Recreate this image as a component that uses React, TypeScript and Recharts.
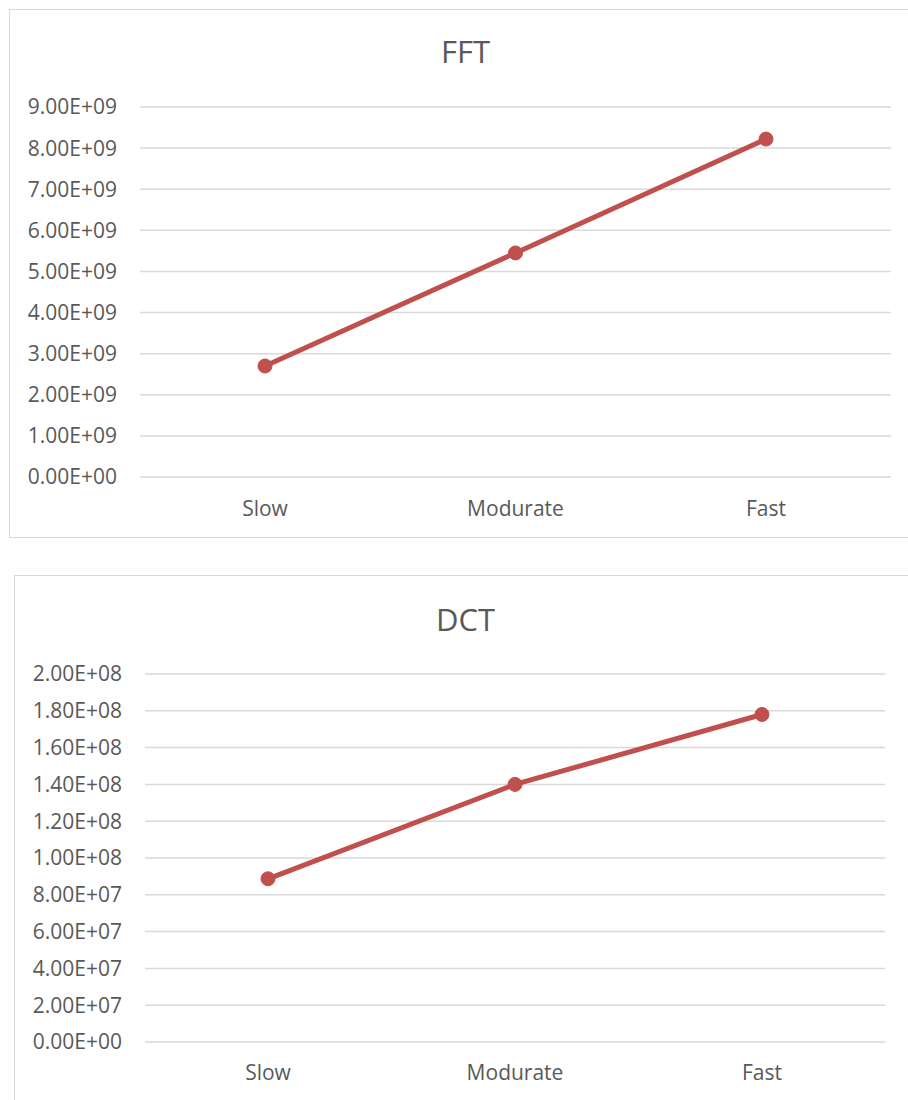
import React from "react";
import { LineChart, Line, XAxis, YAxis, CartesianGrid } from "recharts";

const categories = ["Slow", "Modurate", "Fast"];
const fftValues = [2.7e9, 5.45e9, 8.22e9];
const dctValues = [8.87e7, 1.4e8, 1.78e8];
const fftTicks = [0, 1e9, 2e9, 3e9, 4e9, 5e9, 6e9, 7e9, 8e9, 9e9];
const dctTicks = [0, 2e7, 4e7, 6e7, 8e7, 1e8, 1.2e8, 1.4e8, 1.6e8, 1.8e8, 2e8];

const LINE = "#C0504D";
const GRID = "#d9d9d9";
const TEXT = "#595959";
const FONT = "'Open Sans', sans-serif";

function sci(v: number) {
  const [m, e] = v.toExponential(2).split("e");
  const sign = e.startsWith("-") ? "-" : "+";
  const digits = e.replace(/[+-]/, "").padStart(2, "0");
  return `${m}E${sign}${digits}`;
}

const fftData = categories.map((name, i) => ({ name, value: fftValues[i] }));
const dctData = categories.map((name, i) => ({ name, value: dctValues[i] }));

interface PanelProps {
  title: string;
  data: { name: string; value: number }[];
  ticks: number[];
  top: number;
  boxTop: number;
  boxLeft: number;
  titleTop: number;
  height: number;
  margin: { top: number; right: number; bottom: number; left: number };
  yWidth: number;
  pad: number;
  xTickMargin: number;
}

function Panel(p: PanelProps) {
  const tick = { fontSize: 21, fill: TEXT, fontFamily: FONT };
  return (
    <div style={{ position: "absolute", top: p.top, left: 0, width: 908, height: p.height }}>
      <div
        style={{
          position: "absolute",
          top: p.boxTop,
          left: p.boxLeft,
          width: 940,
          height: 529,
          boxSizing: "border-box",
          border: `1px solid ${GRID}`,
        }}
      />
      <div
        style={{
          position: "absolute",
          top: p.titleTop,
          left: 0,
          width: 931,
          textAlign: "center",
          fontFamily: FONT,
          fontSize: 31,
          lineHeight: "31px",
          color: TEXT,
        }}
      >
        {p.title}
      </div>
      <div style={{ position: "absolute", top: 0, left: 0 }}>
        <LineChart width={908} height={p.height} data={p.data} margin={p.margin}>
          <CartesianGrid vertical={false} stroke={GRID} strokeWidth={1.5} />
          <XAxis
            dataKey="name"
            axisLine={false}
            tickLine={false}
            tickSize={0}
            tickMargin={p.xTickMargin}
            padding={{ left: p.pad, right: p.pad }}
            tick={tick}
            height={40}
          />
          <YAxis
            domain={[p.ticks[0], p.ticks[p.ticks.length - 1]]}
            ticks={p.ticks}
            interval={0}
            axisLine={false}
            tickLine={false}
            tickSize={0}
            tickMargin={23}
            width={p.yWidth}
            tick={tick}
            tickFormatter={sci}
          />
          <Line
            type="linear"
            dataKey="value"
            stroke={LINE}
            strokeWidth={5}
            dot={{ r: 7, fill: LINE, stroke: LINE, strokeWidth: 1 }}
            isAnimationActive={false}
          />
        </LineChart>
      </div>
    </div>
  );
}

export default function App() {
  return (
    <div
      style={{
        position: "absolute",
        top: 0,
        left: 0,
        width: 908,
        height: 1100,
        overflow: "hidden",
        background: "#fff",
      }}
    >
      <Panel
        title="FFT"
        data={fftData}
        ticks={fftTicks}
        top={0}
        boxTop={9}
        boxLeft={9}
        titleTop={36}
        height={538}
        margin={{ top: 107, right: 17, bottom: 21, left: 0 }}
        yWidth={140}
        pad={125}
        xTickMargin={24}
      />
      <Panel
        title="DCT"
        data={dctData}
        ticks={dctTicks}
        top={575}
        boxTop={0}
        boxLeft={14}
        titleTop={29}
        height={525}
        margin={{ top: 99, right: 23, bottom: 18, left: 0 }}
        yWidth={145}
        pad={123}
        xTickMargin={23}
      />
    </div>
  );
}
